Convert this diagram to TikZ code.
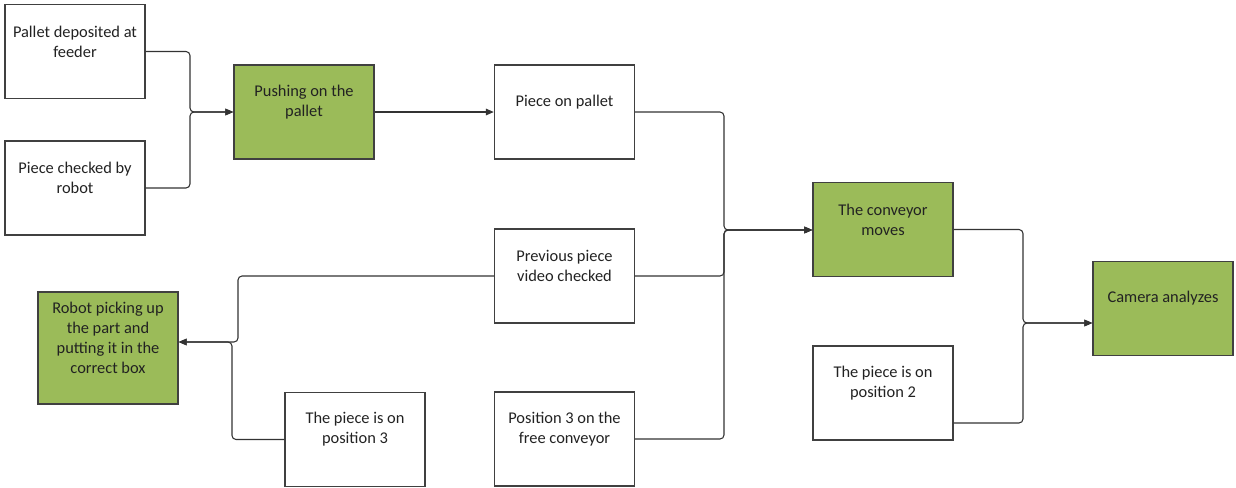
\documentclass[tikz,border=0pt]{standalone}
\usepackage{fontspec}
\setmainfont{Carlito}
\usetikzlibrary{arrows.meta}
\definecolor{boxgreen}{HTML}{9BBB59}
\definecolor{edgegray}{HTML}{404040}
\definecolor{linegray}{HTML}{333333}
\definecolor{txtcol}{HTML}{222222}
\begin{document}
\begin{tikzpicture}[x=0.75pt,y=-0.75pt,
  box/.style={draw=edgegray,line width=1.1pt,fill=white,minimum width=105pt,minimum height=70.5pt,inner sep=0pt},
  gbox/.style={box,fill=boxgreen},
  txt/.style={align=center,font=\fontsize{12.3pt}{15pt}\selectfont,text=txtcol,inner sep=0pt},
  conn/.style={draw=linegray,line width=0.8pt,rounded corners=3pt},
  arr/.style={conn,-{Triangle[length=6pt,width=5pt]}}]
\useasboundingbox (0,0) rectangle (1236,487);
% boxes
\node[box]  (b1)  at (75,51.5)   {};
\node[box]  (b2)  at (75,188)    {};
\node[gbox] (b3)  at (304,112)   {};
\node[box]  (b4)  at (564.5,112) {};
\node[box]  (b5)  at (564.5,276) {};
\node[box]  (b6)  at (564.5,439) {};
\node[box]  (b7)  at (355,439.5) {};
\node[gbox,minimum height=84pt] (b8) at (108,348) {};
\node[gbox] (b9)  at (883,229.5) {};
\node[box]  (b10) at (883,393)   {};
\node[gbox] (b11) at (1163,308.5) {};
% texts
\node[txt] (t1)  at ([yshift=7.5pt]b1.center)  {Pallet deposited at\\feeder};
\node[txt] (t2)  at ([yshift=7.5pt]b2.center)  {Piece checked by\\robot};
\node[txt] (t3)  at ([yshift=7.5pt]b3.center)  {Pushing on the\\pallet};
\node[txt] (t4)  at ([yshift=7.5pt]b4.center)  {Piece on pallet};
\node[txt] (t5)  at ([yshift=7.5pt]b5.center)  {Previous piece\\video checked};
\node[txt] (t6)  at ([yshift=7.5pt]b6.center)  {Position 3 on the\\free conveyor};
\node[txt] (t7)  at ([yshift=7.5pt]b7.center)  {The piece is on\\position 3};
\node[txt] (t8)  at ([yshift=7.5pt]b8.center)  {Robot picking up\\the part and\\putting it in the\\correct box};
\node[txt] (t9)  at ([yshift=7.5pt]b9.center)  {The conveyor\\moves};
\node[txt] (t10) at ([yshift=7.5pt]b10.center) {The piece is on\\position 2};
\node[txt] (t11) at ([yshift=7.5pt]b11.center) {Camera analyzes};
% junctions
\coordinate (j1) at (190,112);
\coordinate (j2) at (724,230);
\coordinate (j3) at (1023,323);
\coordinate (ja) at (238,342);
\coordinate (jb) at (232,342);
\coordinate (p10) at ([yshift=-22.5pt]b10.east);
% connectors
\draw[arr] (b1.east) -| (j1) -- (b3.west);
\draw[arr] (b2.east) -| (j1) -- (b3.west);
\draw[arr] (b3.east) -- (b4.west);
\draw[arr] (b4.east) -| (j2) -- (j2 -| b9.west);
\draw[arr] (b5.east) -| (j2) -- (j2 -| b9.west);
\draw[arr] (b6.east) -| (j2) -- (j2 -| b9.west);
\draw[arr] (b5.west) -| (ja) -- (ja -| b8.east);
\draw[arr] (b7.west) -| (jb) -- (jb -| b8.east);
\draw[arr] (b9.east) -| (j3) -- (j3 -| b11.west);
\draw[arr] (p10) -| (j3) -- (j3 -| b11.west);
\end{tikzpicture}
\end{document}
